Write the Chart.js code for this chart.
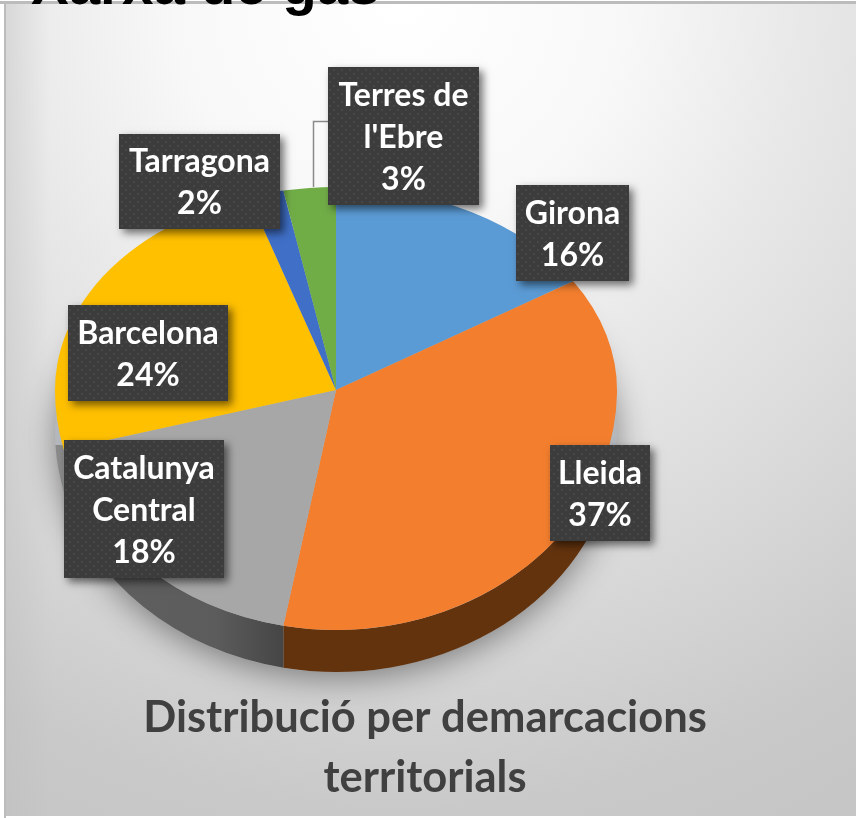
<!DOCTYPE html>
<html>
<head>
<meta charset="utf-8">
<style>
html,body{margin:0;padding:0;background:#fff;overflow:hidden}
#wrap{position:relative;width:856px;height:818px}
canvas{display:block;filter:blur(0.5px)}
</style>
<script src="https://cdn.jsdelivr.net/npm/chart.js@4/dist/chart.umd.min.js"></script>
</head>
<body>
<div id="wrap"><canvas id="c" width="856" height="818"></canvas></div>
<script>
const categories = ['Girona', 'Lleida', 'Catalunya Central', 'Barcelona', 'Tarragona', "Terres de l'Ebre"];
const shares = [16, 37, 18, 24, 2, 3];
const sliceColors = ['#5B9BD5', '#F27E2E', '#A7A7A7', '#FFC000', '#3F6FC6', '#70AD47'];
const labelLines = [['Girona'], ['Lleida'], ['Catalunya', 'Central'], ['Barcelona'], ['Tarragona'], ['Terres de', "l'Ebre"]];
const mainTitle = 'Xarxa de gas';
const chartTitle = ['Distribució per demarcacions', 'territorials'];

const CX = 336, CY = 390, R = 281, UP = 203, DOWN = 240, DEPTH = 42;
const boxes = [[516,185,113,96],[550,445,100,96],[64,440,160,138],[68,305,160,96],[119,134,161,95],[328,67,151,138]];

function dotPattern(ctx){
  const p = document.createElement('canvas'); p.width = 8; p.height = 8;
  const g = p.getContext('2d');
  g.fillStyle = '#3c3c3c'; g.fillRect(0,0,8,8);
  g.fillStyle = '#474747';
  g.fillRect(1,1,2,2); g.fillRect(5,5,2,2);
  return ctx.createPattern(p,'repeat');
}

function faceEllipsePath(ctx, dy){
  ctx.beginPath();
  ctx.ellipse(CX, CY+dy, R, UP, 0, Math.PI, 2*Math.PI);
  ctx.ellipse(CX, CY+dy, R, DOWN, 0, 0, Math.PI);
  ctx.closePath();
}

const pie3d = {
  id: 'pie3d',
  beforeDraw(chart){
    const ctx = chart.ctx;
    ctx.save();
    ctx.fillStyle = '#fff'; ctx.fillRect(0,0,856,818);
    const g = ctx.createRadialGradient(400,0,0,400,0,900);
    g.addColorStop(0,'#ffffff'); g.addColorStop(0.25,'#f8f8f8');
    g.addColorStop(0.45,'#e8e8e8'); g.addColorStop(0.6,'#dedede');
    g.addColorStop(0.8,'#d0d0d0'); g.addColorStop(0.9,'#c9c9c9'); g.addColorStop(1,'#c6c6c6');
    ctx.fillStyle = g; ctx.fillRect(5,4,851,812);
    const l = ctx.createLinearGradient(5,0,50,0);
    l.addColorStop(0,'rgba(190,190,190,0.4)'); l.addColorStop(1,'rgba(190,190,190,0)');
    ctx.fillStyle = l; ctx.fillRect(5,4,45,812);
    ctx.fillStyle = '#bcbcbc';
    ctx.fillRect(0,1,856,3);
    ctx.fillRect(4,1,2,817);
    ctx.restore();
  },
  beforeDatasetsDraw(chart){
    const ctx = chart.ctx;
    const meta = chart.getDatasetMeta(0);
    const first = meta.data[0];
    const r = first.outerRadius;

    // soft shadow and pale base underneath the pie
    ctx.save();
    ctx.shadowColor = 'rgba(0,0,0,0.42)';
    ctx.shadowBlur = 32; ctx.shadowOffsetY = 6;
    ctx.fillStyle = '#b4b8bc';
    faceEllipsePath(ctx, DEPTH);
    ctx.fill();
    ctx.restore();

    // side wall of the lower half
    ctx.save();
    ctx.beginPath(); ctx.rect(0,445,856,373); ctx.clip();
    meta.data.forEach((arc,i)=>{
      const a0 = Math.max(arc.startAngle,0), a1 = Math.min(arc.endAngle,Math.PI);
      if (a1 <= a0) return;
      ctx.beginPath();
      ctx.ellipse(CX,CY+DEPTH,r,DOWN,0,a0,a1);
      ctx.ellipse(CX,CY,r,DOWN,0,a1,a0,true);
      ctx.closePath();
      if (i === 1) ctx.fillStyle = '#63330E';
      else if (i === 2) {
        const g = ctx.createLinearGradient(110,0,285,0);
        g.addColorStop(0,'#5f5f5f'); g.addColorStop(0.6,'#5c5c5c'); g.addColorStop(1,'#454545');
        ctx.fillStyle = g;
      } else ctx.fillStyle = '#8a8a8a';
      ctx.fill();
    });
    ctx.restore();

    // top face: the library's arcs, squashed about the apex
    const drawHalf = (clipY, clipH, ry) => {
      ctx.save();
      ctx.beginPath(); ctx.rect(0,clipY,856,clipH); ctx.clip();
      ctx.translate(CX,CY); ctx.scale(1,ry/r); ctx.translate(-first.x,-first.y);
      meta.controller.draw();
      ctx.restore();
    };
    drawHalf(0,CY+0.5,UP);
    drawHalf(CY,818-CY,DOWN);
    return false;
  },
  afterDraw(chart){
    const ctx = chart.ctx;
    // huge heading, cut off by the top edge
    ctx.save();
    ctx.font = 'bold 56.5px "Liberation Sans"';
    ctx.fillStyle = '#000';
    ctx.textAlign = 'left'; ctx.textBaseline = 'alphabetic';
    ctx.fillText(mainTitle,31,4);
    ctx.restore();

    // leader line of the smallest labelled slice
    ctx.save();
    ctx.strokeStyle = '#8a8a8a'; ctx.lineWidth = 1.5;
    ctx.beginPath(); ctx.moveTo(313.5,187); ctx.lineTo(313.5,121.5); ctx.lineTo(330,121.5); ctx.stroke();
    ctx.restore();

    const pat = dotPattern(ctx);
    categories.forEach((cat,i)=>{
      const [x,y,w,h] = boxes[i];
      ctx.save();
      ctx.shadowColor = 'rgba(0,0,0,0.55)';
      ctx.shadowBlur = 8; ctx.shadowOffsetX = 4; ctx.shadowOffsetY = 4;
      ctx.fillStyle = '#3c3c3c'; ctx.fillRect(x,y,w,h);
      ctx.restore();
      ctx.save();
      ctx.fillStyle = pat; ctx.fillRect(x,y,w,h);
      const lines = labelLines[i].concat([shares[i]+'%']);
      ctx.font = 'bold 32px Lato';
      ctx.fillStyle = '#fff';
      ctx.textAlign = 'center'; ctx.textBaseline = 'middle';
      const mid = y+h/2+1.5;
      lines.forEach((t,k)=> ctx.fillText(t,x+w/2,mid+(k-(lines.length-1)/2)*42));
      ctx.restore();
    });
  }
};

new Chart(document.getElementById('c'), {
  type: 'pie',
  data: {
    labels: categories,
    datasets: [{ data: shares, backgroundColor: sliceColors, borderWidth: 0, radius: R }]
  },
  options: {
    responsive: false,
    animation: false,
    layout: { padding: { left: 0, right: 6, top: 0, bottom: 10 } },
    plugins: {
      legend: { display: false },
      tooltip: { enabled: false },
      title: {
        display: true,
        position: 'bottom',
        text: chartTitle,
        color: '#404040',
        font: { family: 'Lato', weight: 'bold', size: 43.5, lineHeight: 1.375 },
        padding: 0
      }
    }
  },
  plugins: [pie3d]
});
</script>
</body>
</html>
